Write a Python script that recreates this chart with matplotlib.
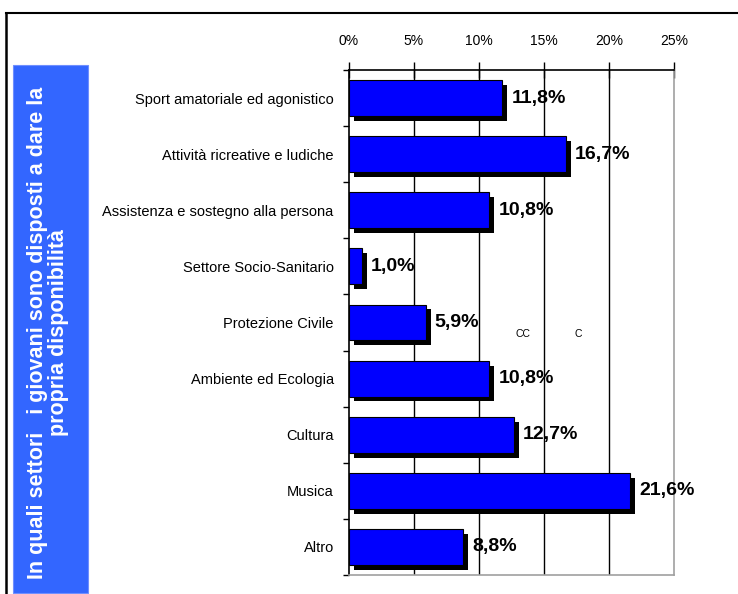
import matplotlib
matplotlib.use("Agg")
import matplotlib.pyplot as plt
import matplotlib.patheffects as pe
from matplotlib.patches import Rectangle
from matplotlib.lines import Line2D

# data
categorie = ["Sport amatoriale ed agonistico", "Attività ricreative e ludiche",
             "Assistenza e sostegno alla persona", "Settore Socio-Sanitario",
             "Protezione Civile", "Ambiente ed Ecologia", "Cultura", "Musica", "Altro"]
valori = [11.8, 16.7, 10.8, 1.0, 5.9, 10.8, 12.7, 21.6, 8.8]
etichette = ["11,8%", "16,7%", "10,8%", "1,0%", "5,9%", "10,8%", "12,7%", "21,6%", "8,8%"]
tick_vals = [0, 5, 10, 15, 20, 25]
tick_labels = ["0%", "5%", "10%", "15%", "20%", "25%"]
titolo = "In quali settori   i giovani sono disposti a dare la\npropria disponibilità"

plt.rcParams['font.family'] = ['Liberation Sans', 'DejaVu Sans']

W, H = 738, 594
fig = plt.figure(figsize=(W/100, H/100), dpi=100)

# outer frame (top and left)
fig.add_artist(Line2D([6/W, 6/W], [0, 1 - 13/H], color="black", lw=1.8, transform=fig.transFigure))
fig.add_artist(Line2D([6/W, 1], [1 - 13/H, 1 - 13/H], color="black", lw=1.5, transform=fig.transFigure))

# blue title panel
fig.add_artist(Rectangle((13/W, 1/H), 75/W, (593-65)/H, transform=fig.transFigure,
                         facecolor="#3366ff", edgecolor="#6f8fff", lw=0.8))
fig.text(48/W, 1 - 333/H, titolo, rotation=90, ha="center", va="center",
         color="white", fontsize=15.5, fontweight="bold", linespacing=1.05,
         multialignment="center")

left, right, top, bottom = 349, 674, 70, 575
ax = fig.add_axes([left/W, 1 - bottom/H, (right-left)/W, (bottom-top)/H])

y = list(range(len(categorie)))
bars = ax.barh(y, valori, height=0.64, color="#0000ff", edgecolor="black", lw=0.8, zorder=3)
for b in bars:
    b.set_path_effects([pe.SimplePatchShadow(offset=(3.5, -3.5), shadow_rgbFace="black", alpha=1),
                        pe.Normal()])

for yi, v, lab in zip(y, valori, etichette):
    ax.text(v + 0.7, yi, lab, ha="left", va="center", fontsize=14,
            fontweight="bold", color="black", zorder=4)

ax.text(13.4, 4.2, "CC", fontsize=7.5, ha="center", va="center")
ax.text(17.6, 4.2, "C", fontsize=7.5, ha="center", va="center")

ax.set_xlim(0, 25)
ax.set_ylim(len(categorie) - 0.5, -0.5)

ax.set_xticks(tick_vals)
ax.set_xticklabels(tick_labels, fontsize=10)
ax.xaxis.tick_top()
ax.tick_params(axis="x", direction="inout", length=11, width=1, pad=10)
for g in tick_vals[1:-1]:
    ax.axvline(g, color="black", lw=1, zorder=1)

ax.set_yticks(y)
ax.set_yticklabels(categorie, fontsize=10.5)
ax.set_yticks([i + 0.5 for i in range(-1, len(categorie))], minor=True)
ax.tick_params(axis="y", which="major", length=0, pad=11)
ax.tick_params(axis="y", which="minor", length=4, width=1)

ax.spines["top"].set_color("black")
ax.spines["left"].set_color("black")
ax.spines["right"].set_color("#a0a0a0")
ax.spines["bottom"].set_color("#a0a0a0")
for s in ax.spines.values():
    s.set_linewidth(1.2)

fig.savefig("out.png", dpi=100)
